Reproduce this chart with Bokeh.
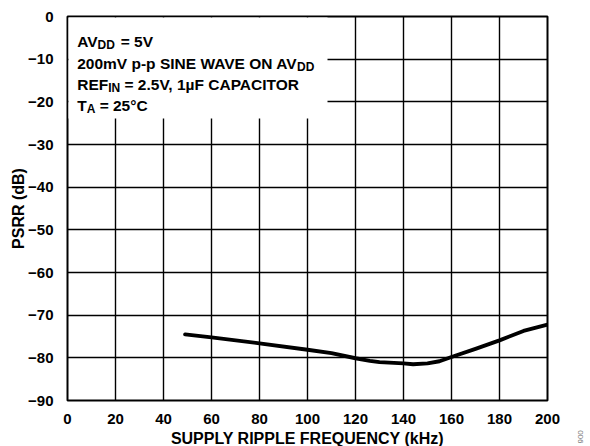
from bokeh.plotting import figure
from bokeh.models import Range1d, FixedTicker, Label, Title
from bokeh.embed import file_html
from bokeh.resources import INLINE

# ---- data ----
freq_khz = [49, 60, 80, 100, 110, 120, 126, 130, 140, 144, 150, 155, 160, 170, 180, 190, 200]
psrr_db = [-74.5, -75.2, -76.6, -78.1, -78.9, -80.1, -80.7, -81.0, -81.3, -81.5, -81.3, -80.8,
           -79.8, -77.9, -75.9, -73.7, -72.2]

x_ticks = [0, 20, 40, 60, 80, 100, 120, 140, 160, 180, 200]
x_tick_labels = ["0", "20", "40", "60", "80", "100", "120", "140", "160", "180", "200"]
y_ticks = [0, -10, -20, -30, -40, -50, -60, -70, -80, -90]
y_tick_labels = ["0", "\u221210", "\u221220", "\u221230", "\u221240", "\u221250",
                 "\u221260", "\u221270", "\u221280", "\u221290"]

x_title = "SUPPLY RIPPLE FREQUENCY (kHz)"
y_title = "PSRR (dB)"

FONT = "Liberation Sans"
ML, MR, MT, MB = 67, 20, 16, 46
FW, FH = 480, 384
X0, X1, Y0, Y1 = 0, 200, -90, 0
LEFT_PX, TOP_PX = ML, MT            # frame position in picture pixels
BOTTOM_PX = TOP_PX + FH             # 400


def dx(px):
    return X0 + (px - LEFT_PX) * (X1 - X0) / FW


def dy(py):
    return Y1 - (py - TOP_PX) * (Y1 - Y0) / FH


p = figure(frame_width=FW, frame_height=FH, output_backend="svg", toolbar_location=None,
           x_range=Range1d(X0, X1), y_range=Range1d(Y0, Y1),
           min_border_left=ML, min_border_right=MR, min_border_top=MT, min_border_bottom=MB)
p.background_fill_color = "white"
p.border_fill_color = "white"
p.outline_line_color = "black"
p.outline_line_width = 2

for ax in (p.xaxis[0], p.yaxis[0]):
    ax.axis_line_color = None
    ax.major_tick_line_color = None
    ax.minor_tick_line_color = None
    ax.major_label_text_font = FONT
    ax.major_label_text_font_style = "bold"
    ax.major_label_text_font_size = "15px"
    ax.major_label_text_color = "black"
    ax.axis_label_text_font = FONT
    ax.axis_label_text_font_style = "bold"
    ax.axis_label_text_font_size = "16px"
    ax.axis_label_text_color = "black"

p.xaxis.ticker = FixedTicker(ticks=x_ticks)
p.yaxis.ticker = FixedTicker(ticks=y_ticks)
p.xaxis.major_label_overrides = dict(zip(x_ticks, x_tick_labels))
p.yaxis.major_label_overrides = dict(zip(y_ticks, y_tick_labels))
p.xaxis.axis_label = x_title
p.yaxis.axis_label = y_title
p.xaxis.major_label_standoff = 7
p.yaxis.major_label_standoff = 8
p.xaxis.axis_label_standoff = 3
p.yaxis.axis_label_standoff = -2

p.xgrid.ticker = FixedTicker(ticks=x_ticks)
p.ygrid.ticker = FixedTicker(ticks=y_ticks)
for g in (p.xgrid[0], p.ygrid[0]):
    g.grid_line_color = "black"
    g.grid_line_width = 1.4
    g.grid_line_alpha = 1.0

# white legend box over the grid
p.quad(left=dx(LEFT_PX + 1), right=dx(327), top=dy(TOP_PX + 1), bottom=dy(118),
       fill_color="white", line_color=None)

p.line(freq_khz, psrr_db, line_color="black", line_width=3.9, line_join="round", line_cap="round")

# annotation text with subscripts
x0 = 76.7
main_sz, sub_sz = 15.5, 12
sub_drop = 3.5


def put(txt, px, base_py, size, sub=False):
    p.add_layout(Label(x=dx(px), y=dy(base_py + (sub_drop if sub else 0)), text=txt,
                       text_font=FONT, text_font_style="bold",
                       text_font_size=f"{size}px", text_color="black",
                       text_align="left", text_baseline="alphabetic"))


# widths (Liberation Sans Bold metrics, kerning approximated)
w = lambda units, size: units * size / 1000.0
SP = 278

# line 1: AV_DD = 5V
b = 40.5
put("AV", x0, b, main_sz)
put("DD", x0 + w(1315, main_sz), b, sub_sz, True)
put("= 5V", x0 + w(1315, main_sz) + w(1444, sub_sz) + w(SP, main_sz) + 1.5, b, main_sz)

# line 2: 200mV p-p SINE WAVE ON AV_DD
b = 63
put("200mV p-p SINE WAVE ON AV", x0, b, main_sz)
put("DD", x0 + w(14188, main_sz), b, sub_sz, True)

# line 3: REF_IN = 2.5V, 1µF CAPACITOR
b = 84
put("REF", x0, b, main_sz)
put("IN", x0 + w(2000, main_sz), b, sub_sz, True)
put("= 2.5V, 1\u00b5F CAPACITOR", x0 + w(2000, main_sz) + w(1000, sub_sz) + w(SP, main_sz), b, main_sz)

# line 4: T_A = 25°C
b = 105
put("T", x0, b, main_sz)
put("A", x0 + w(611, main_sz), b, sub_sz, True)
put("= 25\u00b0C", x0 + w(611, main_sz) + w(722, sub_sz) + w(SP, main_sz), b, main_sz)

# figure number fragment at the right edge
p.add_layout(Title(text="006", align="right", vertical_align="top", offset=-43, standoff=56,
                   text_font=FONT, text_font_size="8px", text_font_style="normal",
                   text_color="#777777"), "right")

open("out.html", "w").write(file_html(p, INLINE))
